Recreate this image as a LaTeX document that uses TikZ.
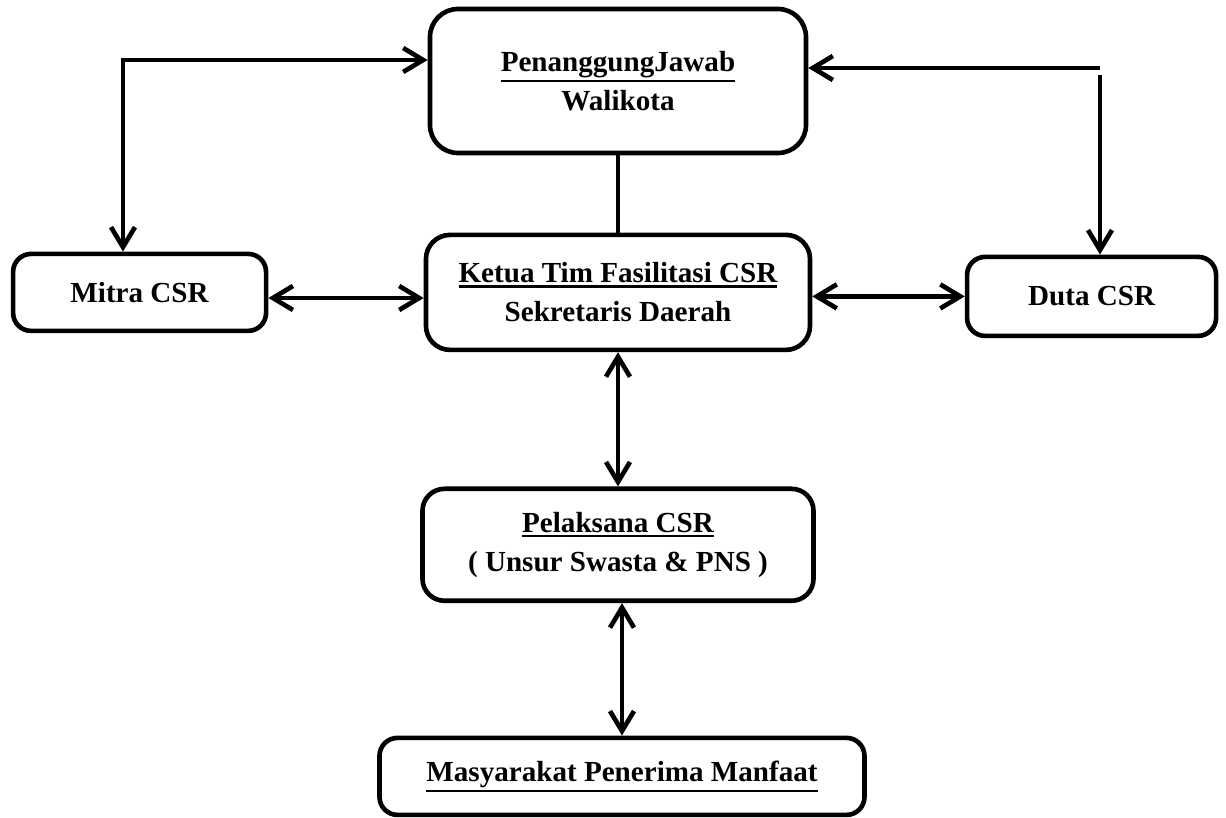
\documentclass[tikz,border=0pt]{standalone}
\usepackage{fontspec}
\setmainfont{Liberation Serif}
\usepackage{tikz}
\usetikzlibrary{arrows.meta,positioning}
\newcommand{\ulined}[1]{\leavevmode\vtop{\hbox{#1}\kern1.6pt\hrule height 1.5pt}}
\tikzstyle{box} = [rectangle, rounded corners=0.45cm, draw=black, line width=3.3pt, text centered, align=center, inner sep=0pt, font=\bfseries\fontsize{20.7}{27.7}\selectfont]
\tikzstyle{link} = [line width=3.3pt, -{Straight Barb[length=5mm,width=6mm]}]
\tikzstyle{duallink} = [line width=3.3pt, {Straight Barb[length=5mm,width=6mm]}-{Straight Barb[length=5mm,width=6mm]}]

\begin{document}
\begin{tikzpicture}
\useasboundingbox (-15.45,2.025) rectangle (15.2,-18.425);
% Walikota and Sekda
\node (pj) [box, minimum width=9.4cm, minimum height=3.6cm, rounded corners=0.7cm] {\ulined{PenanggungJawab}\\Walikota};
\node (ketua) [box, below of=pj, node distance=5.285cm, minimum width=9.6cm, minimum height=2.875cm, rounded corners=0.6cm] {\ulined{Ketua Tim Fasilitasi CSR}\\Sekretaris Daerah};
\node (mitra) [box, left of=ketua, node distance=11.96cm, minimum width=6.325cm, minimum height=1.925cm] {Mitra CSR};
\node (duta) [box, right of=ketua, node distance=11.84cm, yshift=-0.1cm, minimum width=6.225cm, minimum height=1.975cm] {Duta CSR};
\node (pel) [box, below of=ketua, node distance=6.31cm, minimum width=9.775cm, minimum height=2.8cm, rounded corners=0.55cm] {\ulined{Pelaksana CSR}\\( Unsur Swasta \& PNS )};
\node (masy) [box, below of=pel, node distance=5.79cm, xshift=0.1cm, minimum width=12.125cm, minimum height=1.925cm] {\ulined{Masyarakat Penerima Manfaat}};

% Corners of the side lines
\coordinate (lcorner) at (-12.375,0.525);
\coordinate (rcorner) at (12.05,0.325);

% Connections
\draw[duallink] (lcorner -| pj.west) -- (lcorner) -- (lcorner |- mitra.north);
\draw[link] (rcorner) -- (rcorner -| pj.east);
\draw[link, shorten <=0.17cm] (rcorner) -- (rcorner |- duta.north);
\draw[line width=3.3pt] (pj.south) -- (pj.south |- ketua.north);
\draw[duallink] ([yshift=-0.14cm]mitra.east) -- ([yshift=-0.14cm]mitra.east -| ketua.west);
\draw[duallink] (duta.west -| ketua.east) -- (duta.west);
\draw[duallink] (ketua) -- (pel);
\draw[duallink] (pel.south -| masy.north) -- (masy.north);
\end{tikzpicture}
\end{document}
